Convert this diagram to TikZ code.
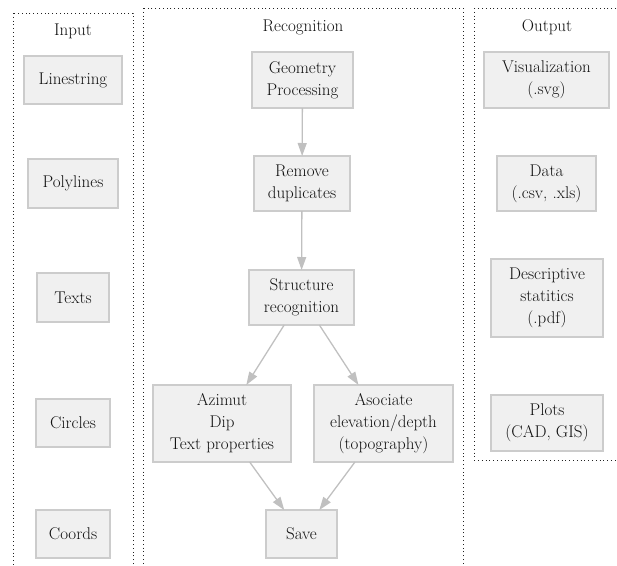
\documentclass[tikz,border=0pt]{standalone}
\usetikzlibrary{arrows.meta}
\definecolor{boxfill}{HTML}{F0F0F0}
\definecolor{boxline}{HTML}{CCCCCC}
\definecolor{edgecol}{HTML}{C0C0C0}
\definecolor{txt}{HTML}{111111}
\definecolor{clus}{HTML}{222222}
\tikzset{
  procbox/.style={draw=boxline, fill=boxfill, line width=1.3pt, inner sep=0pt, outer sep=0pt,
    align=center, text=txt, font=\rmfamily\fontsize{17}{22}\selectfont},
  flow/.style={draw=edgecol, line width=1.3pt, -{Triangle[length=13pt,width=9pt]}},
  cluster/.style={draw=clus, line width=1pt, dash pattern=on 1pt off 2.8pt},
  clabel/.style={text=txt, font=\rmfamily\fontsize{17}{22}\selectfont, anchor=base, inner sep=0pt}
}
\begin{document}
\begin{tikzpicture}[x=1pt,y=-1pt]
\useasboundingbox (0,0) rectangle (617,565);
% clusters
\draw[cluster] (13,13) rectangle (133,580);
\draw[cluster] (143,8) rectangle (463,580);
\draw[cluster] (474,8) rectangle (625,460);
\node[clabel] (linput) at (73,35) {Input};
\node[clabel] (lrec) at (303,31) {Recognition};
\node[clabel] (lout) at (547,31) {Output};
% input
\node[procbox, minimum width=98pt, minimum height=48pt] (lin) at (73,80) {Linestring};
\node[procbox, minimum width=90pt, minimum height=49pt] (pol) at (73,183.5) {Polylines};
\node[procbox, minimum width=72pt, minimum height=49pt] (tex) at (73,297.5) {Texts};
\node[procbox, minimum width=74pt, minimum height=48pt] (cir) at (73,423) {Circles};
\node[procbox, minimum width=74pt, minimum height=48pt] (coo) at (73,534) {Coords};
% recognition
\node[procbox, minimum width=101pt, minimum height=56pt] (geo) at (302.5,80) {Geometry\\Processing};
\node[procbox, minimum width=96pt, minimum height=55pt] (rem) at (302,183.5) {Remove\\duplicates};
\node[procbox, minimum width=105pt, minimum height=55pt] (str) at (301.5,297.5) {Structure\\recognition};
\node[procbox, minimum width=138pt, minimum height=77pt] (azi) at (222,423.5) {Azimut\\Dip\\Text properties};
\node[procbox, minimum width=139pt, minimum height=77pt] (aso) at (383.5,423.5) {Asociate\\elevation/depth\\(topography)};
\node[procbox, minimum width=71pt, minimum height=48pt] (sav) at (301.5,534) {Save};
% output
\node[procbox, minimum width=125pt, minimum height=56pt] (vis) at (546.5,80) {Visualization\\(.svg)};
\node[procbox, minimum width=99pt, minimum height=55pt] (dat) at (546.5,183.5) {Data\\(.csv, .xls)};
\node[procbox, minimum width=112pt, minimum height=78pt] (des) at (547,298) {Descriptive\\statitics\hspace*{8pt}\\(.pdf)};
\node[procbox, minimum width=112pt, minimum height=56pt] (plo) at (547,423) {Plots\\(CAD, GIS)};
% edges
\draw[flow] (geo) -- (rem);
\draw[flow] (rem) -- (str);
\draw[flow] (str) -- (azi);
\draw[flow] (str) -- (aso);
\draw[flow] (azi) -- (sav);
\draw[flow] (aso) -- (sav);
\end{tikzpicture}
\end{document}
